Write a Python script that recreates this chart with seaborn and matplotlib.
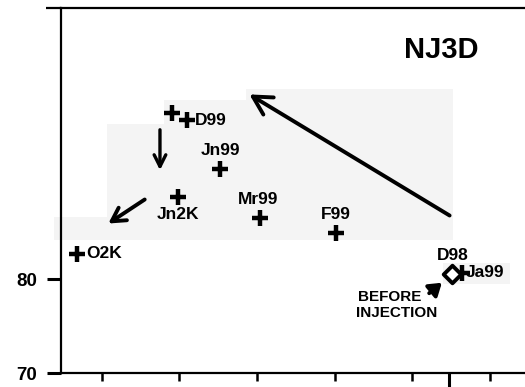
import matplotlib
matplotlib.use("Agg")
import matplotlib.pyplot as plt
import seaborn as sns
import pandas as pd
from matplotlib.patches import Rectangle

sns.set_theme(style="white")
plt.rcParams['font.family'] = ['Liberation Sans', 'DejaVu Sans']
plt.rcParams['font.weight'] = 'bold'
plt.rcParams['text.color'] = 'black'
plt.rcParams['xtick.color'] = 'black'
plt.rcParams['ytick.color'] = 'black'
plt.rcParams['axes.labelcolor'] = 'black'

# Data
labels = ["O2K", "Jn2K", "D99a", "D99", "Jn99", "Mr99", "F99", "Ja99"]
x_vals = [6.77, 19.81, 19.03, 20.97, 25.23, 30.39, 40.19, 56.45]
y_vals = [82.66, 88.72, 97.66, 96.91, 91.70, 86.49, 84.89, 80.64]
before_x = [55.16]
before_y = [80.53]

yticks = [70, 80]
ytick_labels = ["70", "80"]
xticks = [10, 20, 30, 40, 50, 60]

# label placement: (text, x, y, ha)
point_labels = [
    ("O2K", 7.94, 82.66, "left"),
    ("Jn2K", 19.81, 86.91, "center"),
    ("D99", 22.0, 96.91, "left"),
    ("Jn99", 25.23, 93.72, "center"),
    ("Mr99", 30.13, 88.51, "center"),
    ("F99", 40.19, 86.81, "center"),
    ("D98", 55.29, 82.45, "center"),
    ("Ja99", 56.97, 80.64, "left"),
]

# light grey background shading (scan tone): x0, x1, y0, y1
shades = [
    (10.65, 55.29, 84.15, 96.49),
    (18.0, 55.29, 96.49, 99.04),
    (28.58, 55.29, 99.04, 100.21),
    (3.81, 10.65, 84.15, 86.6),
    (54.0, 62.65, 79.47, 81.70),
]

df = pd.DataFrame({"x": x_vals, "y": y_vals, "label": labels})
df_b = pd.DataFrame({"x": before_x, "y": before_y})

fig = plt.figure(figsize=(5.25, 3.87), dpi=100)
ax = fig.add_axes([61/525, 1-373/387, 1-61/525, (373-8)/387])
ax.set_facecolor("white")

for (x0, x1, y0, y1) in shades:
    ax.add_patch(Rectangle((x0, y0), x1-x0, y1-y0, facecolor="#f4f4f4",
                           edgecolor="none", zorder=0, clip_on=False))

sns.scatterplot(data=df, x="x", y="y", marker="+", s=130, linewidth=3.2,
                color="black", ax=ax, zorder=3, legend=False)
sns.scatterplot(data=df_b, x="x", y="y", marker="D", s=80, linewidth=2.8,
                facecolor="white", edgecolor="black", ax=ax, zorder=4, legend=False)

for t, x, y, ha in point_labels:
    ax.text(x, y, t, ha=ha, va="center", fontsize=12.5, fontweight="bold",
            color="black", zorder=5)

ax.text(53.74, 104.36, "NJ3D", ha="center", va="center", fontsize=21,
        fontweight="bold", color="black")
ax.text(47.16, 78.09, "BEFORE", ha="center", va="center", fontsize=11,
        fontweight="bold", color="black")
ax.text(48.06, 76.38, "INJECTION", ha="center", va="center", fontsize=11,
        fontweight="bold", color="black")

# arrows
ax.annotate("", xy=(28.71, 99.79), xytext=(55.16, 86.60),
            arrowprops=dict(arrowstyle="->,head_length=1.1,head_width=0.6", lw=2.8, color="black"))
ax.annotate("", xy=(17.48, 91.28), xytext=(17.48, 96.17),
            arrowprops=dict(arrowstyle="->,head_length=0.7,head_width=0.35", lw=2.4, color="black"))
ax.annotate("", xy=(10.52, 85.74), xytext=(15.81, 88.62),
            arrowprops=dict(arrowstyle="->,head_length=0.8,head_width=0.45", lw=2.8, color="black"))
ax.annotate("", xy=(54.13, 79.79), xytext=(51.94, 78.30),
            arrowprops=dict(arrowstyle="-|>,head_length=0.6,head_width=0.4", lw=2.8, color="black"))

ax.set_xlim(4.71, 64.58)
ax.set_ylim(70, 108.83)
ax.set_xlabel("")
ax.set_ylabel("")

ax.set_yticks(yticks)
ax.set_yticklabels(ytick_labels)
ax.set_xticks(xticks)
ax.set_xticklabels([""] * len(xticks))
ax.set_xticks([54.77], minor=True)

ax.tick_params(axis="y", which="major", direction="out", length=10, width=2.2,
               pad=7, labelsize=13.5, color="black", labelcolor="black", left=True)
ax.tick_params(axis="x", which="major", direction="out", length=6, width=1.8,
               color="black", bottom=True)
ax.tick_params(axis="x", which="minor", direction="out", length=10, width=2.2,
               color="black", bottom=True)
for lab in ax.get_yticklabels():
    lab.set_fontweight("bold")

# top frame line extends left of the y axis
ax.plot([-15/464, 0], [1, 1], transform=ax.transAxes, color="black", lw=1.6,
        clip_on=False, solid_capstyle="butt")

for side in ["left", "bottom", "top"]:
    ax.spines[side].set_visible(True)
    ax.spines[side].set_color("black")
    ax.spines[side].set_linewidth(1.6)
ax.spines["right"].set_visible(False)

fig.savefig("out.png", dpi=100)
